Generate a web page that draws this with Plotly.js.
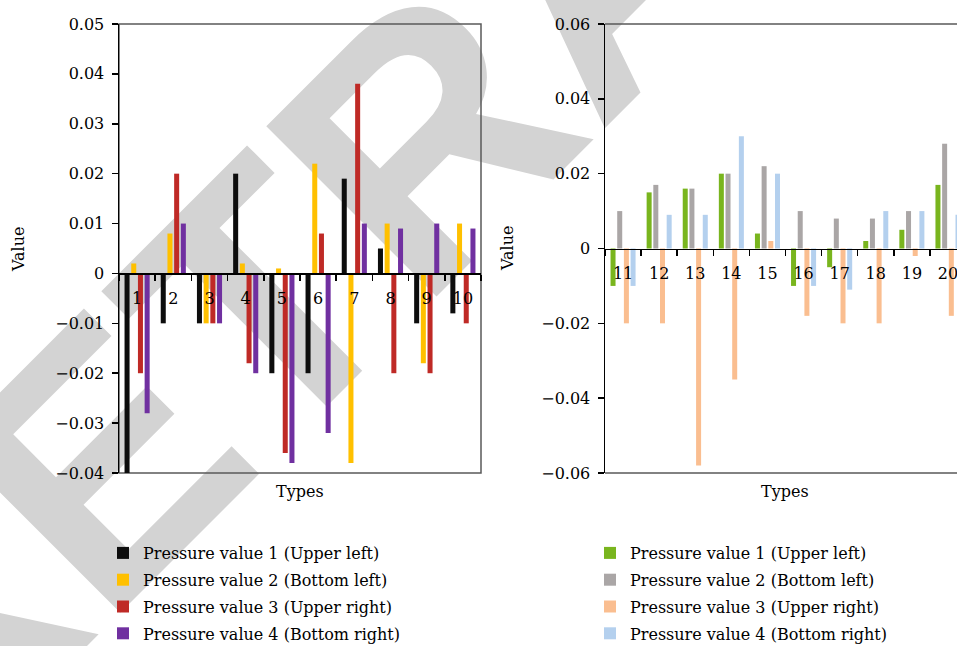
<!DOCTYPE html>
<html>
<head>
<meta charset="utf-8">
<script src="https://cdn.plot.ly/plotly-3.0.1.min.js"></script>
<style>
html,body{margin:0;padding:0;background:#fff;}
#wrap{position:relative;width:957px;height:646px;overflow:hidden;background:#fff;}
#wm{position:absolute;left:0;top:0;}
#chart{position:absolute;left:0;top:0;width:957px;height:700px;}
</style>
</head>
<body>
<div id="wrap">
<svg id="wm" width="957" height="646"><text x="-75" y="808" transform="rotate(-45 -75 808)" font-family="Liberation Sans" font-weight="bold" font-size="350" fill="#d3d3d3">RETRACTED</text></svg>
<div id="chart"></div>
</div>
<script>
// ---- data ----
const typesLeft = ['1','2','3','4','5','6','7','8','9','10'];
const typesRight = ['11','12','13','14','15','16','17','18','19','20'];
const seriesNames = ['Pressure value 1 (Upper left)','Pressure value 2 (Bottom left)','Pressure value 3 (Upper right)','Pressure value 4 (Bottom right)'];
const leftP1 = [-0.040,-0.010,-0.010, 0.020,-0.020,-0.020, 0.019, 0.005,-0.010,-0.008];
const leftP2 = [ 0.002, 0.008,-0.010, 0.002, 0.001, 0.022,-0.038, 0.010,-0.018, 0.010];
const leftP3 = [-0.020, 0.020,-0.010,-0.018,-0.036, 0.008, 0.038,-0.020,-0.020,-0.010];
const leftP4 = [-0.028, 0.010,-0.010,-0.020,-0.038,-0.032, 0.010, 0.009, 0.010, 0.009];
const rightP1 = [-0.010, 0.015, 0.016, 0.020, 0.004,-0.010,-0.005, 0.002, 0.005, 0.017];
const rightP2 = [ 0.010, 0.017, 0.016, 0.020, 0.022, 0.010, 0.008, 0.008, 0.010, 0.028];
const rightP3 = [-0.020,-0.020,-0.058,-0.035, 0.002,-0.018,-0.020,-0.020,-0.002,-0.018];
const rightP4 = [-0.010, 0.009, 0.009, 0.030, 0.020,-0.010,-0.011, 0.010, 0.010, 0.009];
const leftColors = ['#0D0D0D','#FFC000','#BF2A26','#7030A0'];
const rightColors = ['#79B51E','#AAA6A6','#FABE90','#B4D0EE'];

// ---- layout geometry ----
const W = 957, H = 700;
const FONT = 'DejaVu Serif';
const FS = 16;
const yTop = 1 - 24 / H, yBot = 1 - 473 / H;
const yDom = [yBot, yTop];
const zeroLeft = yBot + (0.04 / 0.09) * (yTop - yBot);
const zeroRight = yBot + 0.5 * (yTop - yBot);

const leftSeries = [leftP1, leftP2, leftP3, leftP4];
const rightSeries = [rightP1, rightP2, rightP3, rightP4];
const traces = [];
leftSeries.forEach((vals, i) => traces.push({
  type:'bar', x: typesLeft, y: vals, name: seriesNames[i], marker:{color: leftColors[i]},
  xaxis:'x', yaxis:'y', legend:'legend', legendgroup:'L' + i, hoverinfo:'skip'
}));
rightSeries.forEach((vals, i) => traces.push({
  type:'bar', x: typesRight, y: vals, name: seriesNames[i], marker:{color: rightColors[i]},
  xaxis:'x2', yaxis:'y2', legend:'legend2', legendgroup:'R' + i, hoverinfo:'skip'
}));

const tickFont = {family: FONT, size: FS, color:'#000'};
const xCommon = {type:'category', anchor:'free', showline:true, linecolor:'#000', linewidth:1.5,
  ticks:'outside', tickson:'boundaries', ticklen:6, tickwidth:1.5, tickcolor:'#000',
  tickfont: tickFont, showgrid:false, zeroline:false, fixedrange:true, ticklabelstandoff:10};
const yCommon = {domain: yDom, showline:true, linecolor:'#000', linewidth:1.5, ticks:'outside',
  ticklen:6, tickwidth:1.5, tickcolor:'#000', tickfont: tickFont, showgrid:false, zeroline:false,
  fixedrange:true, ticklabelstandoff:4};
const legCommon = {xanchor:'left', yanchor:'top', bgcolor:'rgba(0,0,0,0)', borderwidth:0,
  font:{family: FONT, size:FS, color:'#000'}, traceorder:'grouped', tracegroupgap:3};
const annFont = {family:FONT, size:FS, color:'#000'};

const layout = {
  width: W, height: H,
  margin:{l:0, r:0, t:0, b:0},
  paper_bgcolor:'rgba(0,0,0,0)', plot_bgcolor:'rgba(0,0,0,0)',
  barmode:'group', bargap:0.26, bargroupgap:0.25,
  font:{family: FONT, color:'#000'},
  xaxis: Object.assign({}, xCommon, {domain:[119/W, 481/W], position: zeroLeft, range:[-0.5, 9.5]}),
  yaxis: Object.assign({}, yCommon, {anchor:'x', range:[-0.04, 0.05], dtick:0.01, tick0:0}),
  xaxis2: Object.assign({}, xCommon, {domain:[605/W, 1], position: zeroRight, range:[-0.5, 9.25]}),
  yaxis2: Object.assign({}, yCommon, {anchor:'x2', range:[-0.06, 0.06], dtick:0.02, tick0:0}),
  legend: Object.assign({}, legCommon, {x: 103/W, y: 1 - 536/H}),
  legend2: Object.assign({}, legCommon, {x: 590/W, y: 1 - 536/H}),
  shapes: [
    {type:'rect', xref:'x domain', yref:'y domain', x0:0, x1:1, y0:0, y1:1, layer:'below', line:{color:'#595959', width:1.5}},
    {type:'line', xref:'x2 domain', yref:'y2 domain', x0:0, x1:1, y0:1, y1:1, layer:'below', line:{color:'#595959', width:1.5}},
    {type:'line', xref:'x2 domain', yref:'y2 domain', x0:0, x1:1, y0:0, y1:0, layer:'below', line:{color:'#595959', width:1.5}}
  ],
  annotations: [
    {text:'Types', xref:'paper', yref:'paper', x:300/W, y:1 - 491/H, xanchor:'center', yanchor:'middle', showarrow:false, font:annFont},
    {text:'Types', xref:'paper', yref:'paper', x:785/W, y:1 - 491/H, xanchor:'center', yanchor:'middle', showarrow:false, font:annFont},
    {text:'Value', xref:'paper', yref:'paper', x:19/W, y:1 - 249/H, xanchor:'center', yanchor:'middle', textangle:-90, showarrow:false, font:annFont},
    {text:'Value', xref:'paper', yref:'paper', x:507/W, y:1 - 248/H, xanchor:'center', yanchor:'middle', textangle:-90, showarrow:false, font:annFont}
  ]
};

Plotly.newPlot('chart', traces, layout, {displayModeBar:false, staticPlot:true});
</script>
</body>
</html>
